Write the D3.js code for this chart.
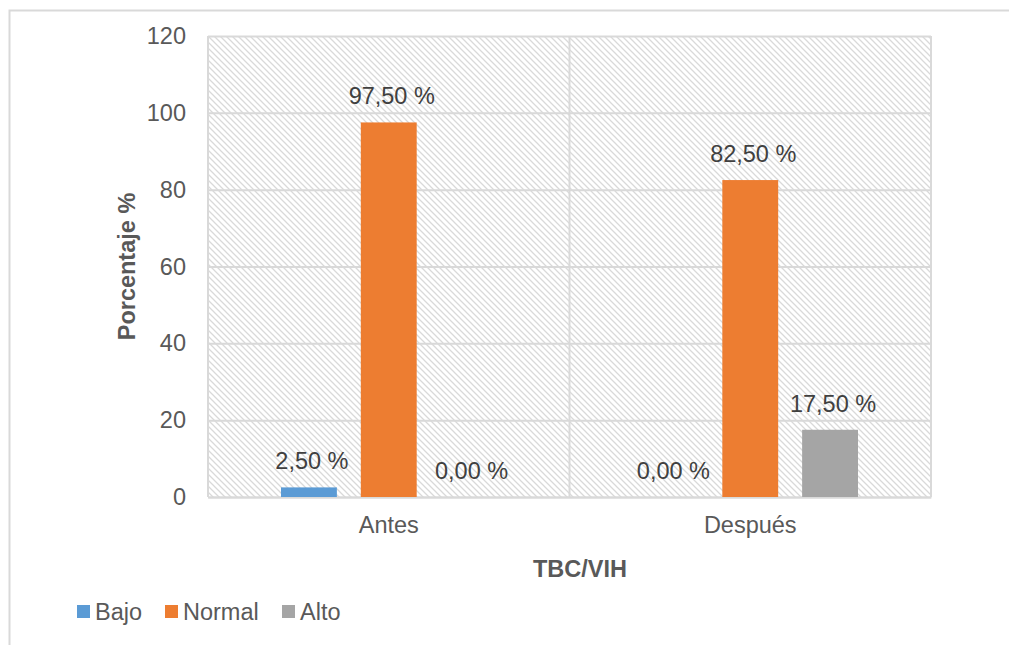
<!DOCTYPE html>
<html>
<head>
<meta charset="utf-8">
<script src="https://cdn.jsdelivr.net/npm/d3@7"></script>
<style>
  body { margin: 0; background: #fff; }
  text { font-family: "Liberation Sans", Arial, sans-serif; }
</style>
</head>
<body>
<svg id="chart" width="1009" height="645"></svg>
<script>
const categories = ["Antes", "Después"];
const series = ["Bajo", "Normal", "Alto"];
const colors = ["#5b9bd5", "#ed7d31", "#a5a5a5"];
const bajo = [2.5, 0];
const normal = [97.5, 82.5];
const alto = [0, 17.5];
const yTicks = [0, 20, 40, 60, 80, 100, 120];

const values = [bajo, normal, alto];
const rows = categories.map((c, i) => ({
  cat: c,
  vals: series.map((s, j) => ({ key: s, value: values[j][i], color: colors[j] }))
}));

const fontSize = "23.5px";
const svg = d3.select("#chart");
const plotLeft = 208, plotRight = 931, plotTop = 36, plotBottom = 497;
const width = plotRight - plotLeft;
const height = plotBottom - plotTop;

// outer frame
svg.append("rect")
  .attr("x", 9.5).attr("y", 10.5)
  .attr("width", 1100).attr("height", 700)
  .attr("fill", "none").attr("stroke", "#d9d9d9").attr("stroke-width", 2);

const defs = svg.append("defs");
const pat = defs.append("pattern")
  .attr("id", "hatch")
  .attr("patternUnits", "userSpaceOnUse")
  .attr("width", 6).attr("height", 6);
pat.append("path")
  .attr("d", "M-1,-1 L7,7 M-1,5 L1,7 M5,-1 L7,1")
  .attr("stroke", "#d9d9d9").attr("stroke-width", 1.3);

const chart = svg.append("g").attr("transform", `translate(${plotLeft}, ${plotTop})`);

const y = d3.scaleLinear().domain([0, 120]).range([height, 0]);
const x0 = d3.scaleBand().domain(categories).range([0, width]);
const x1 = d3.scaleBand().domain(series).range([73, x0.bandwidth() - 73]).paddingInner(0.3);

chart.append("rect")
  .attr("width", width).attr("height", height)
  .attr("fill", "url(#hatch)");

// gridlines
chart.append("g")
  .call(d3.axisLeft(y).tickValues(yTicks).tickSize(-width).tickFormat(""))
  .call(g => g.select(".domain").remove())
  .call(g => g.selectAll("line").attr("stroke", "#d9d9d9").attr("stroke-width", 2));

// vertical separators
chart.append("g")
  .selectAll("line")
  .data([0, x0.bandwidth(), width])
  .enter().append("line")
  .attr("x1", d => d).attr("x2", d => d)
  .attr("y1", 0).attr("y2", height)
  .attr("stroke", "#d9d9d9").attr("stroke-width", 2);

// y tick labels
chart.append("g")
  .call(d3.axisLeft(y).tickValues(yTicks).tickSize(0).tickPadding(22))
  .call(g => g.select(".domain").remove())
  .call(g => g.selectAll("text")
    .attr("fill", "#595959").style("font-size", fontSize)
    .style("font-family", "'Liberation Sans', Arial, sans-serif"));

// x axis
chart.append("g")
  .attr("transform", `translate(0, ${height})`)
  .call(d3.axisBottom(x0).tickSize(0).tickPadding(19))
  .call(g => g.select(".domain").attr("stroke", "#d9d9d9").attr("stroke-width", 2))
  .call(g => g.selectAll("text")
    .attr("fill", "#595959").style("font-size", fontSize)
    .style("font-family", "'Liberation Sans', Arial, sans-serif"));

const groups = chart.selectAll(".grp")
  .data(rows)
  .enter().append("g")
  .attr("transform", d => `translate(${x0(d.cat)}, 0)`);

groups.selectAll("rect")
  .data(d => d.vals)
  .enter().append("rect")
  .attr("x", d => x1(d.key))
  .attr("y", d => y(d.value))
  .attr("width", x1.bandwidth())
  .attr("height", d => height - y(d.value))
  .attr("fill", d => d.color);

const fmt = v => v.toFixed(2).replace(".", ",") + " %";
groups.selectAll(".lbl")
  .data(d => d.vals)
  .enter().append("text")
  .attr("x", d => x1(d.key) + x1.bandwidth() / 2 + 3)
  .attr("y", d => y(d.value) - 18)
  .attr("text-anchor", "middle")
  .attr("fill", "#404040")
  .style("font-size", fontSize)
  .text(d => fmt(d.value));

// axis titles
svg.append("text")
  .attr("transform", `translate(135, ${plotTop + height / 2}) rotate(-90)`)
  .attr("text-anchor", "middle")
  .attr("fill", "#595959")
  .style("font-size", fontSize).style("font-weight", "bold")
  .text("Porcentaje %");

svg.append("text")
  .attr("x", 580).attr("y", 577)
  .attr("text-anchor", "middle")
  .attr("fill", "#595959")
  .style("font-size", fontSize).style("font-weight", "bold")
  .text("TBC/VIH");

// legend
const legendX = [77, 165, 282];
const legend = svg.append("g")
  .selectAll("g")
  .data(series)
  .enter().append("g")
  .attr("transform", (d, i) => `translate(${legendX[i]}, 605)`);
legend.append("rect")
  .attr("width", 13).attr("height", 13)
  .attr("fill", (d, i) => colors[i]);
legend.append("text")
  .attr("x", 18).attr("y", 15)
  .attr("fill", "#595959")
  .style("font-size", fontSize)
  .text(d => d);
</script>
</body>
</html>
